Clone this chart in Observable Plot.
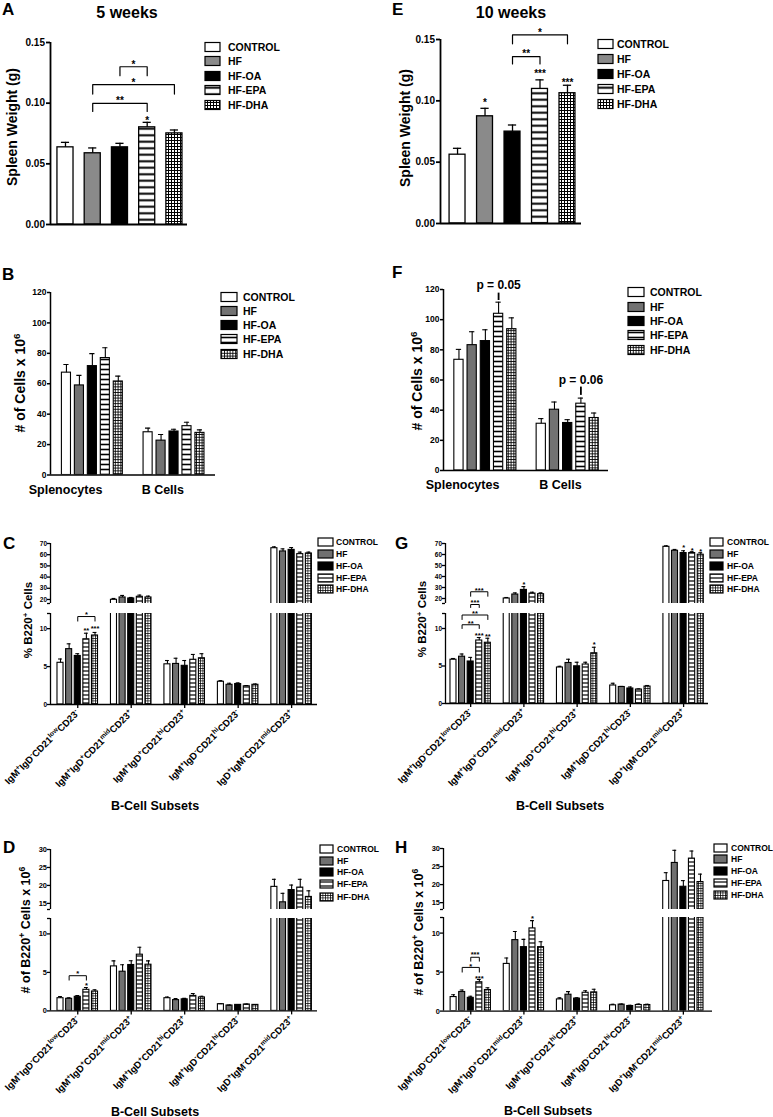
<!DOCTYPE html>
<html><head><meta charset="utf-8">
<script src="https://cdn.jsdelivr.net/npm/d3@7"></script>
<script src="https://cdn.jsdelivr.net/npm/@observablehq/plot@0.6"></script>
<style>
body{margin:0;background:#fff;}
#fig{position:relative;width:773px;height:1117px;overflow:hidden;background:#fff;}
</style></head>
<body><div id="fig"></div>
<script>
// ---------------- DATA ----------------
const groups = ["CONTROL", "HF", "HF-OA", "HF-EPA", "HF-DHA"];
const cellTypes = ["Splenocytes", "B Cells"];
const subsets = ["IgM^{+}IgD^{-}CD21^{low}CD23^{-}", "IgM^{+}IgD^{+}CD21^{mid}CD23^{+}", "IgM^{+}IgD^{+}CD21^{hi}CD23^{+}", "IgM^{+}IgD^{-}CD21^{hi}CD23^{-}", "IgD^{+}IgM^{-}CD21^{mid}CD23^{+}"];

// A: spleen weight 5 weeks (g)
const spleen5wMean = [0.0636, 0.0587, 0.0636, 0.0801, 0.0751];
const spleen5wSem  = [0.0041, 0.0044, 0.0033, 0.0041, 0.0028];
// E: spleen weight 10 weeks (g)
const spleen10wMean = [0.0561, 0.0874, 0.0749, 0.1097, 0.1062];
const spleen10wSem  = [0.0052, 0.0065, 0.0054, 0.0074, 0.0065];
// B: # cells x10^6, 5 weeks [Splenocytes, B Cells]
const cells5wMean = [[67.3, 58.9, 71.6, 76.9, 61.5], [28.1, 22.6, 28.6, 32.1, 27.7]];
const cells5wSem  = [[5.4, 6.6, 8.2, 6.8, 3.5], [2.7, 4.0, 1.5, 2.6, 2.0]];
// F: # cells x10^6, 10 weeks
const cells10wMean = [[73.4, 83.1, 85.8, 103.9, 93.7], [31.0, 40.3, 31.5, 44.3, 34.8]];
const cells10wSem  = [[6.9, 8.9, 7.5, 7.7, 7.5], [3.4, 5.1, 2.2, 3.7, 3.3]];
// C: % B220+ cells, 5 weeks (per subset)
const pct5wMean = [[5.5, 7.3, 6.4, 8.6, 9.1], [19.7, 21.8, 20.9, 22.4, 21.8], [5.3, 5.35, 5.1, 5.9, 6.1], [3.0, 2.6, 2.7, 2.4, 2.6], [65.8, 62.9, 64.3, 60.5, 61.1]];
const pct5wSem  = [[0.5, 0.7, 0.3, 0.8, 0.4], [1.2, 1.8, 0.9, 1.5, 1.2], [0.5, 0.75, 0.7, 0.7, 0.6], [0.15, 0.2, 0.15, 0.1, 0.1], [1.2, 2.3, 2.1, 1.8, 1.2]];
// G: % B220+ cells, 10 weeks
const pct10wMean = [[5.84, 6.24, 5.6, 8.4, 8.1], [20.0, 23.6, 27.8, 24.5, 23.9], [4.8, 5.4, 4.96, 5.2, 6.7], [2.4, 2.2, 2.0, 1.86, 2.26], [67.0, 63.4, 61.3, 61.3, 59.8]];
const pct10wSem  = [[0.16, 0.36, 0.55, 0.4, 0.6], [0.9, 1.5, 3.0, 1.2, 1.2], [0.16, 0.5, 0.54, 0.3, 0.8], [0.3, 0.08, 0.2, 0.09, 0.14], [0.9, 1.2, 2.1, 1.2, 1.8]];
// D: # B220+ cells x10^6, 5 weeks
const num5wMean = [[1.65, 1.57, 1.83, 2.74, 2.52], [5.78, 5.09, 5.96, 7.3, 6.0], [1.65, 1.4, 1.5, 1.95, 1.75], [0.87, 0.7, 0.78, 0.83, 0.78], [19.6, 15.3, 18.7, 19.4, 16.8]];
const num5wSem  = [[0.22, 0.13, 0.17, 0.3, 0.22], [0.72, 0.9, 0.55, 0.96, 0.5], [0.15, 0.2, 0.12, 0.3, 0.15], [0.05, 0.05, 0.05, 0.05, 0.05], [2.1, 2.5, 1.4, 2.3, 1.7]];
// H: # B220+ cells x10^6, 10 weeks
const num10wMean = [[1.8, 2.45, 1.7, 3.7, 2.7], [6.05, 9.1, 8.2, 10.6, 8.2], [1.5, 2.1, 1.6, 2.35, 2.4], [0.74, 0.83, 0.65, 0.78, 0.78], [21.0, 26.0, 19.4, 27.2, 20.7]];
const num10wSem  = [[0.3, 0.25, 0.2, 0.35, 0.3], [0.75, 1.1, 1.0, 1.0, 0.7], [0.2, 0.4, 0.1, 0.25, 0.4], [0.13, 0.07, 0.09, 0.12, 0.09], [2.3, 3.5, 1.7, 2.1, 2.2]];

// significance annotations (values in data units)
const bracketsA = [
  {cat: 0, from: "HF-OA", to: "HF-EPA", top: 0.130, leg: 0.1226, labelY: 0.1341, label: "*"},
  {cat: 0, from: "HF", to: "HF-DHA", top: 0.1152, leg: 0.1075, labelY: 0.1193, label: "*"},
  {cat: 0, from: "HF", to: "HF-EPA", top: 0.0998, leg: 0.0932, labelY: 0.1048, label: "**"}];
const starsA = [{cat: 0, group: "HF-EPA", y: 0.0883, label: "*"}];
const bracketsE = [
  {cat: 0, from: "HF-OA", to: "HF-DHA", top: 0.1538, leg: 0.1465, labelY: 0.1579, label: "*"},
  {cat: 0, from: "HF-OA", to: "HF-EPA", top: 0.1361, leg: 0.1301, labelY: 0.1405, label: "**"}];
const starsE = [{cat: 0, group: "HF", y: 0.1007, label: "*"}, {cat: 0, group: "HF-EPA", y: 0.1244, label: "***"}, {cat: 0, group: "HF-DHA", y: 0.1173, label: "***"}];
const pNotesF = [{cat: 0, group: "HF-EPA", y: 122.6, dashTop: 117.6, dashBottom: 112.7, label: "p = 0.05"},
                 {cat: 1, group: "HF-EPA", y: 60.2, dashTop: 55.3, dashBottom: 49.8, label: "p = 0.06"}];
const bracketsC = [{cat: 0, from: "HF-OA", to: "HF-DHA", top: 11.6, leg: 11.0, labelY: 12.2, label: "*"}];
const starsC = [{cat: 0, group: "HF-EPA", y: 10.0, label: "**"}, {cat: 0, group: "HF-DHA", y: 10.3, label: "***"}];
const bracketsG = [
  {cat: 0, from: "HF", to: "HF-EPA", top: 10.5, leg: 10.0, labelY: 10.9, label: "**"},
  {cat: 0, from: "HF", to: "HF-DHA", top: 11.8, leg: 11.2, labelY: 12.3, label: "**"},
  {cat: 0, from: "HF-OA", to: "HF-EPA", top: 13.2, leg: 12.8, labelY: 13.7, label: "***"},
  {cat: 0, from: "HF-OA", to: "HF-DHA", top: 14.9, leg: 14.3, labelY: 15.3, label: "***"}];
const starsG = [
  {cat: 0, group: "HF-EPA", y: 9.4, label: "***"}, {cat: 0, group: "HF-DHA", y: 9.2, label: "**"},
  {cat: 2, group: "HF-DHA", y: 8.2, label: "*"},
  {cat: 1, group: "HF-OA", y: 34.4, label: "*", seg: 0},
  {cat: 4, group: "HF-OA", y: 67.9, label: "*", seg: 0}, {cat: 4, group: "HF-EPA", y: 65.8, label: "*", seg: 0}, {cat: 4, group: "HF-DHA", y: 64.6, label: "*", seg: 0}];
const bracketsD = [{cat: 0, from: "HF", to: "HF-EPA", top: 4.57, leg: 4.0, labelY: 5.2, label: "*"}];
const starsD = [{cat: 0, group: "HF-EPA", y: 3.55, label: "*"}];
const bracketsH = [
  {cat: 0, from: "HF-OA", to: "HF-EPA", top: 6.9, leg: 6.4, labelY: 7.5, label: "***"},
  {cat: 0, from: "HF", to: "HF-EPA", top: 5.6, leg: 5.0, labelY: 6.0, label: "*"}];
const starsH = [{cat: 0, group: "HF-EPA", y: 4.5, label: "***"}, {cat: 1, group: "HF-EPA", y: 12.2, label: "*"}];

// ---------------- RENDER ----------------
const FONT = '"Liberation Sans", Arial, Helvetica, sans-serif';
const fig = document.getElementById("fig");
const ov = d3.select(fig).append("svg").attr("width", 773).attr("height", 1117)
  .style("position", "absolute").style("left", "0px").style("top", "0px")
  .style("font-family", FONT).style("font-weight", "bold").style("overflow", "visible");
const defs = ov.append("defs");
function hstripe(id, period, lw) {
  const p = defs.append("pattern").attr("id", id).attr("patternUnits", "userSpaceOnUse").attr("width", 10).attr("height", period);
  p.append("rect").attr("width", 10).attr("height", period).attr("fill", "white");
  p.append("rect").attr("y", (period - lw) / 2).attr("width", 10).attr("height", lw).attr("fill", "black");
}
function grid(id, s, lw) {
  const p = defs.append("pattern").attr("id", id).attr("patternUnits", "userSpaceOnUse").attr("width", s).attr("height", s);
  p.append("rect").attr("width", s).attr("height", s).attr("fill", "white");
  p.append("path").attr("d", `M0 ${lw / 2}H${s}M${lw / 2} 0V${s}`).attr("stroke", "black").attr("stroke-width", lw);
}
hstripe("hsA", 6.5, 2); hstripe("hsB", 5, 1.6); hstripe("hsC", 4, 1.2);
grid("grA", 3, 1); grid("grB", 2.8, 0.9); grid("grC", 2.5, 0.75);

function supify(el, str, fs) {
  el.textContent = "";
  const parts = str.split(/(\^\{[^}]*\})/).filter(s => s.length);
  let shift = 0;
  for (const p of parts) {
    const t = document.createElementNS("http://www.w3.org/2000/svg", "tspan");
    const m = p.match(/^\^\{(.*)\}$/);
    if (m) {
      t.textContent = m[1];
      t.setAttribute("font-size", (fs * 0.7).toFixed(2));
      const d = -fs * 0.38 - shift; if (d) t.setAttribute("dy", d.toFixed(2)); shift = -fs * 0.38;
    } else {
      t.textContent = p;
      if (shift) t.setAttribute("dy", (-shift).toFixed(2)); shift = 0;
    }
    el.appendChild(t);
  }
}
function otext(x, y, str, fs, anchor = "start", rotate = 0) {
  const t = ov.append("text").attr("font-size", fs).attr("text-anchor", anchor).attr("fill", "black")
    .attr("transform", `translate(${x},${y})` + (rotate ? ` rotate(${rotate})` : ""));
  supify(t.node(), str, fs);
}

function drawPanel(P) {
  const rows = [];
  P.mean.forEach((arr, c) => arr.forEach((m, g) => rows.push({cat: c, group: groups[g], mean: m, sem: P.sem[c][g], x: c * P.stride + g - 2})));
  const xp = (c, name) => c * P.stride + groups.indexOf(name) - 2;
  const nc = P.mean.length;
  const xDomain = [-2 - P.offL, (nc - 1) * P.stride + 2 + P.offR];
  const nseg = P.segs.length;
  P.segs.forEach((S, si) => {
    const lower = si === nseg - 1;
    const ML = 50, MR = 10, MT = 40, MB = lower ? 140 : 2;
    const width = (P.fr - P.fl) + ML + MR;
    const height = (S.bottom - S.top) + MT + MB;
    const inSeg = d => (d.seg ?? nseg - 1) === si;
    const br = (P.brackets || []).filter(inSeg);
    const st = (P.stars || []).filter(inSeg);
    const bpts = br.flatMap((b, i) => {
      const a = xp(b.cat, b.from), z = xp(b.cat, b.to);
      return [{id: i, x: a, y: b.leg}, {id: i, x: a, y: b.top}, {id: i, x: z, y: b.top}, {id: i, x: z, y: b.leg}];
    });
    const ticks = S.cap != null ? S.ticks.concat([S.cap]) : S.ticks;
    const marks = [
      Plot.rectY(rows, {x1: d => d.x - P.bw / 2, x2: d => d.x + P.bw / 2, y1: () => 0, y2: "mean", fill: "group", stroke: "black", strokeWidth: P.barSW, clip: true}),
      Plot.ruleX(rows, {x: "x", y1: "mean", y2: d => d.mean + d.sem, stroke: "black", strokeWidth: P.errW, clip: true}),
      Plot.ruleY(rows, {y: d => d.mean + d.sem, x1: d => d.x - P.cw / 2, x2: d => d.x + P.cw / 2, stroke: "black", strokeWidth: P.errW, clip: true}),
      Plot.ruleX([xDomain[0]], {stroke: "black", strokeWidth: P.axisW}),
      Plot.axisY({ticks, tickFormat: d => S.ticks.includes(d) ? S.fmt(d) : "", tickSize: P.tickSize, tickPadding: P.tickPad, fontSize: P.tickFont, fontWeight: "bold", stroke: "black", strokeWidth: P.axisW, label: null})
    ];
    if (lower) marks.push(Plot.ruleY([S.domain[0]], {stroke: "black", strokeWidth: P.axisW}));
    if (lower && P.xaxis && P.xaxis.rotate) marks.push(Plot.axisX({
      ticks: d3.range(nc).map(c => c * P.stride), tickFormat: v => P.xaxis.labels[Math.round(v / P.stride)],
      tickRotate: P.xaxis.rotate, tickSize: P.xaxis.tickSize, tickPadding: P.xaxis.pad, fontSize: P.xaxis.fs, fontWeight: "bold",
      stroke: "black", strokeWidth: P.axisW, label: null}));
    if (lower && P.xaxis && !P.xaxis.rotate) marks.push(Plot.text(P.xaxis.labels, {
      x: (d, i) => i * P.stride, y: () => S.domain[0], text: d => d, textAnchor: "end", lineAnchor: "middle",
      dx: P.xaxis.dx, dy: P.xaxis.dy, fontSize: P.xaxis.fs, fontWeight: "bold"}));
    if (bpts.length) marks.push(Plot.line(bpts, {x: "x", y: "y", z: "id", stroke: "black", strokeWidth: P.brW}));
    if (br.length) marks.push(Plot.text(br, {x: b => (xp(b.cat, b.from) + xp(b.cat, b.to)) / 2, y: "labelY", text: "label", fontSize: P.annFont, fontWeight: "bold", lineAnchor: "middle", dy: P.annFont * 0.3}));
    if (st.length) marks.push(Plot.text(st, {x: s => xp(s.cat, s.group), y: "y", text: "label", fontSize: P.annFont, fontWeight: "bold", lineAnchor: "middle", dy: P.annFont * 0.3}));
    if (lower && P.pnotes) {
      marks.push(Plot.ruleX(P.pnotes, {x: s => xp(s.cat, s.group), y1: "dashBottom", y2: "dashTop", stroke: "black", strokeWidth: 1.8}));
      marks.push(Plot.text(P.pnotes, {x: s => xp(s.cat, s.group), y: "y", text: "label", fontSize: 12, fontWeight: "bold", lineAnchor: "middle"}));
    }
    const svg = Plot.plot({
      width, height, marginLeft: ML, marginRight: MR, marginTop: MT, marginBottom: MB,
      x: {type: "linear", domain: xDomain, axis: null, label: null},
      y: {type: "linear", domain: S.domain, axis: null, label: null},
      color: {type: "ordinal", domain: groups, range: P.fills},
      style: `position:absolute;left:${P.fl - ML}px;top:${S.top - MT}px;background:transparent;overflow:visible;max-width:none;font-family:${FONT};font-weight:bold;color:black;`,
      marks
    });
    if (lower && P.xaxis && P.xaxis.rich) {
      svg.querySelectorAll('[aria-label="x-axis tick label"] text').forEach(t => {
        t.setAttribute("font-size", P.xaxis.fs);
        supify(t, t.textContent, P.xaxis.fs);
      });
    }
    fig.appendChild(svg);
  });
  // decorations
  otext(P.letter[1], P.letter[2], P.letter[0], 17);
  if (P.title) otext(P.title[1], P.title[2], P.title[0], 16, "middle");
  otext(P.ylab[1] + P.ylab[3] * 0.36, P.ylab[2], P.ylab[0], P.ylab[3], "middle", -90);
  if (P.xtitle) otext(P.xtitle[1], P.xtitle[2] + P.xtitle[3] * 0.36, P.xtitle[0], P.xtitle[3], "middle");
  const L = P.legend;
  L.ys.forEach((y, i) => {
    ov.append("rect").attr("x", L.x).attr("y", y - L.h / 2).attr("width", L.w).attr("height", L.h)
      .attr("fill", P.fills[i]).attr("stroke", "black").attr("stroke-width", 1.2);
    otext(L.tx, y + L.fs * 0.36, groups[i], L.fs);
  });
}

const fillsBig = ["white", "#8a8a8a", "black", "url(#hsA)", "url(#grA)"];
const fillsMid = ["white", "#727272", "black", "url(#hsB)", "url(#grB)"];
const fillsSmall = ["white", "#707070", "black", "url(#hsC)", "url(#grC)"];
const f2 = d3.format(".2f"), fd = d3.format("d");
const common = {barSW: 1.1, errW: 1.1, axisW: 1.5, brW: 1.2};
const subsetAxis = {labels: subsets, rotate: -45, fs: 9.6, tickSize: 4, pad: 3, rich: true};

// A
drawPanel({...common, mean: [spleen5wMean], sem: [spleen5wSem], stride: 6, offL: 0.55, offR: 0.48, bw: 0.59, cw: 0.3,
  fl: 50, fr: 187, segs: [{domain: [0, 0.15], top: 42, bottom: 224, ticks: [0, 0.05, 0.1, 0.15], fmt: f2}],
  fills: fillsBig, tickFont: 10, tickSize: 4, tickPad: 1.5, barSW: 1.3, errW: 1.3, axisW: 1.8, annFont: 10,
  brackets: bracketsA, stars: starsA,
  letter: ["A", 2, 15], title: ["5 weeks", 127, 18], ylab: ["Spleen Weight (g)", 12, 127, 14],
  legend: {x: 205, tx: 228, ys: [47, 61, 76, 90, 105], w: 15, h: 9, fs: 10.5}});
// E
drawPanel({...common, mean: [spleen10wMean], sem: [spleen10wSem], stride: 6, offL: 0.62, offR: 0.51, bw: 0.58, cw: 0.3,
  fl: 440, fr: 581, segs: [{domain: [0, 0.15], top: 39, bottom: 223, ticks: [0, 0.05, 0.1, 0.15], fmt: f2}],
  fills: fillsBig, tickFont: 10, tickSize: 4, tickPad: 1.5, barSW: 1.3, errW: 1.3, axisW: 1.8, annFont: 10,
  brackets: bracketsE, stars: starsE,
  letter: ["E", 392, 15], title: ["10 weeks", 511, 18], ylab: ["Spleen Weight (g)", 405, 128, 14],
  legend: {x: 598, tx: 617, ys: [44, 59, 74, 89, 104], w: 15, h: 9, fs: 10.5}});
// B
drawPanel({...common, mean: cells5wMean, sem: cells5wSem, stride: 6.3, offL: 1.23, offR: 1.2, bw: 0.7, cw: 0.4,
  fl: 50, fr: 215, segs: [{domain: [0, 120], top: 292, bottom: 474.5, ticks: d3.range(0, 121, 20), fmt: fd}],
  fills: fillsMid, tickFont: 8.5, tickSize: 3, tickPad: 1, annFont: 10,
  xaxis: {labels: cellTypes, rotate: 0, fs: 12.5, dx: 10, dy: 15},
  letter: ["B", 2, 280], ylab: ["# of Cells x 10^{6}", 20, 383, 14],
  legend: {x: 221, tx: 243, ys: [297, 311, 325, 339, 354], w: 16, h: 9, fs: 10.5}});
// F
drawPanel({...common, mean: cells10wMean, sem: cells10wSem, stride: 6.23, offL: 1.17, offR: 1.09, bw: 0.7, cw: 0.4,
  fl: 443, fr: 608, segs: [{domain: [0, 120], top: 289, bottom: 470, ticks: d3.range(0, 121, 20), fmt: fd}],
  fills: fillsMid, tickFont: 8.5, tickSize: 3, tickPad: 1, annFont: 10, pnotes: pNotesF,
  xaxis: {labels: cellTypes, rotate: 0, fs: 12.5, dx: 14, dy: 14},
  letter: ["F", 392, 278], ylab: ["# of Cells x 10^{6}", 417, 381, 14],
  legend: {x: 628, tx: 650, ys: [292, 307, 321, 335, 350], w: 16, h: 9, fs: 10.5}});
// C
drawPanel({...common, mean: pct5wMean, sem: pct5wSem, stride: 6.2, offL: 1.16, offR: 1.0, bw: 0.7, cw: 0.45,
  fl: 50, fr: 317, segs: [
    {domain: [16.4, 70], top: 543, bottom: 603, ticks: [20, 30, 40, 50, 60, 70], cap: 16.4, fmt: fd},
    {domain: [0, 12], top: 613, bottom: 704, ticks: [0, 5, 10], cap: 12, fmt: fd}],
  fills: fillsSmall, tickFont: 6.5, tickSize: 3, tickPad: 0.5, axisW: 1.3, annFont: 7.5, brW: 1,
  brackets: bracketsC, stars: starsC, xaxis: subsetAxis,
  letter: ["C", 3, 549], ylab: ["% B220^{+} Cells", 28, 620, 11.5], xtitle: ["B-Cell Subsets", 155, 805, 12.5],
  legend: {x: 318, tx: 336, ys: [542, 554, 566, 578, 589], w: 15, h: 8, fs: 8.5}});
// G
drawPanel({...common, mean: pct10wMean, sem: pct10wSem, stride: 6.2, offL: 0.93, offR: 0.9, bw: 0.7, cw: 0.45,
  fl: 445, fr: 708, segs: [
    {domain: [15.45, 70], top: 543, bottom: 603, ticks: [20, 30, 40, 50, 60, 70], cap: 15.45, fmt: fd},
    {domain: [0, 12], top: 613, bottom: 703, ticks: [0, 5, 10], cap: 12, fmt: fd}],
  fills: fillsSmall, tickFont: 6.5, tickSize: 3, tickPad: 0.5, axisW: 1.3, annFont: 7.5, brW: 1,
  brackets: bracketsG, stars: starsG, xaxis: subsetAxis,
  letter: ["G", 395, 549], ylab: ["% B220^{+} Cells", 422, 619, 11.5], xtitle: ["B-Cell Subsets", 560, 805, 12.5],
  legend: {x: 710, tx: 727, ys: [542, 554, 566, 578, 589], w: 13, h: 8, fs: 8.5}});
// D
drawPanel({...common, mean: num5wMean, sem: num5wSem, stride: 6.2, offL: 1.16, offR: 1.0, bw: 0.7, cw: 0.45,
  fl: 50, fr: 317, segs: [
    {domain: [13.3, 30], top: 849, bottom: 909, ticks: [15, 20, 25, 30], cap: 13.3, fmt: fd},
    {domain: [0, 12], top: 917.6, bottom: 1010, ticks: [0, 5, 10], cap: 12, fmt: fd}],
  fills: fillsSmall, tickFont: 7.5, tickSize: 3, tickPad: 0.5, axisW: 1.3, annFont: 7.5, brW: 1,
  brackets: bracketsD, stars: starsD, xaxis: subsetAxis,
  letter: ["D", 3, 853], ylab: ["# of B220^{+} Cells x 10^{6}", 25, 930, 12.5], xtitle: ["B-Cell Subsets", 155, 1111, 12.5],
  legend: {x: 320, tx: 337, ys: [849, 861, 872, 884, 897], w: 13, h: 8, fs: 8.5}});
// H
drawPanel({...common, mean: num10wMean, sem: num10wSem, stride: 6.2, offL: 1.18, offR: 1.4, bw: 0.7, cw: 0.45,
  fl: 443, fr: 712, segs: [
    {domain: [13.1, 30], top: 848, bottom: 909, ticks: [15, 20, 25, 30], cap: 13.1, fmt: fd},
    {domain: [0, 12], top: 917.4, bottom: 1011, ticks: [0, 5, 10], cap: 12, fmt: fd}],
  fills: fillsSmall, tickFont: 7.5, tickSize: 3, tickPad: 0.5, axisW: 1.3, annFont: 7.5, brW: 1,
  brackets: bracketsH, stars: starsH, xaxis: subsetAxis,
  letter: ["H", 395, 853], ylab: ["# of B220^{+} Cells x 10^{6}", 418, 932, 12.5], xtitle: ["B-Cell Subsets", 548, 1110, 12.5],
  legend: {x: 714, tx: 731, ys: [848, 859, 871, 883, 895], w: 13, h: 8, fs: 8.5}});
</script></body></html>
